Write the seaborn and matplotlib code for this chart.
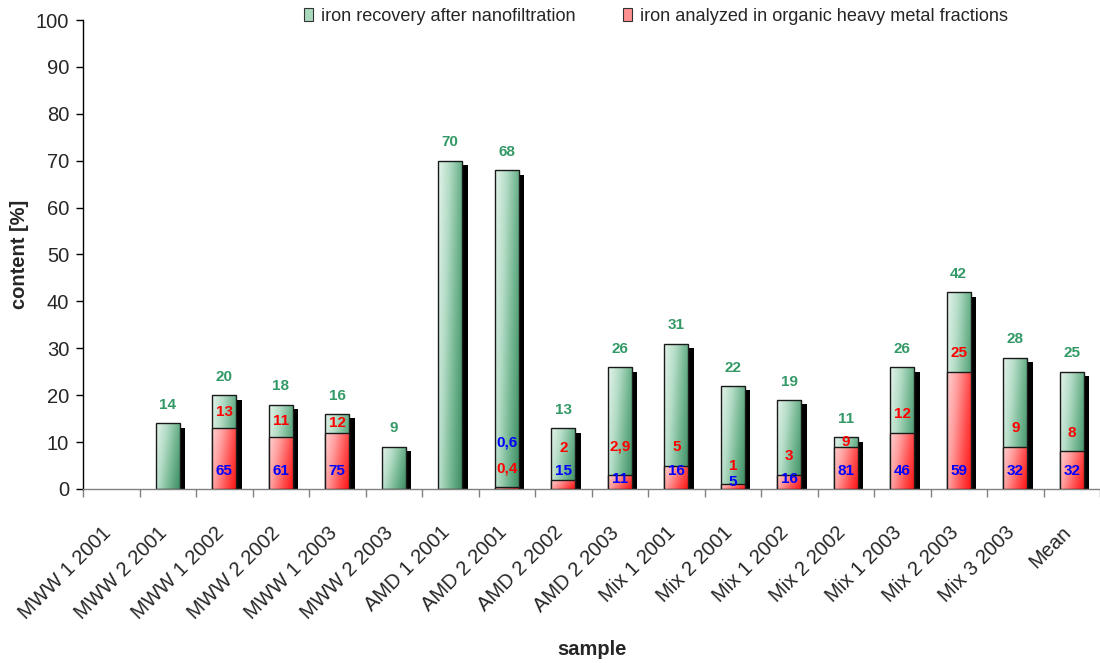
import numpy as np
import pandas as pd
import matplotlib
matplotlib.use("Agg")
import matplotlib.pyplot as plt
from matplotlib.colors import LinearSegmentedColormap
from matplotlib.patches import Patch, Rectangle
from matplotlib.transforms import ScaledTranslation
import seaborn as sns

# ---- data -------------------------------------------------------------
samples = ["MWW 1 2001", "MWW 2 2001", "MWW 1 2002", "MWW 2 2002", "MWW 1 2003",
           "MWW 2 2003", "AMD 1 2001", "AMD 2 2001", "AMD 2 2002", "AMD 2 2003",
           "Mix 1 2001", "Mix 2 2001", "Mix 1 2002", "Mix 2 2002", "Mix 1 2003",
           "Mix 2 2003", "Mix 3 2003", "Mean"]
nan = np.nan
# iron recovery after nanofiltration [%]
recovery = [nan, 14, 20, 18, 16, 9, 70, 68, 13, 26, 31, 22, 19, 11, 26, 42, 28, 25]
# iron analyzed in organic heavy metal fractions [%]
organic = [nan, nan, 13, 11, 12, nan, nan, 0.4, 2, 2.9, 5, 1, 3, 9, 12, 25, 9, 8]
# share of the recovered iron found in the organic fractions [%]
share = [nan, nan, 65, 61, 75, nan, nan, 0.6, 15, 11, 16, 5, 16, 81, 46, 59, 32, 32]

legend_labels = ["iron recovery after nanofiltration",
                 "iron analyzed in organic heavy metal fractions"]
y_ticks = [0, 10, 20, 30, 40, 50, 60, 70, 80, 90, 100]

df = pd.DataFrame({"sample": samples, "recovery": recovery,
                   "organic": organic, "share": share})

# ---- style ------------------------------------------------------------
sns.set_style("white")
plt.rcParams["font.family"] = ["Liberation Sans", "DejaVu Sans"]

GREEN_TXT = "#339966"
green_cmap = LinearSegmentedColormap.from_list(
    "g", ["#e3f3ea", "#b4dcc6", "#6fb48e", "#3a8a60"])
red_cmap = LinearSegmentedColormap.from_list(
    "r", ["#ffd0d0", "#ff9c9c", "#ff5050", "#ff1010"])

fig = plt.figure(figsize=(11, 6.63), dpi=100)
ax = fig.add_axes([83 / 1100, 1 - 489 / 663, 1 - 83 / 1100, (489 - 20) / 663])

BAR_W = 0.425
n0 = len(ax.patches)
sns.barplot(data=df, x="sample", y="recovery", order=samples, width=BAR_W,
            errorbar=None, color="white", ax=ax)
green_patches = ax.patches[n0:]
n1 = len(ax.patches)
sns.barplot(data=df, x="sample", y="organic", order=samples, width=BAR_W,
            errorbar=None, color="white", ax=ax)
red_patches = ax.patches[n1:]


def shade(patch, cmap, z):
    h = patch.get_height()
    if not np.isfinite(h) or h <= 0:
        patch.set_visible(False)
        return False
    x0, y0, w = patch.get_x(), patch.get_y(), patch.get_width()
    nx, ny = 48, 96
    xf = np.linspace(0, 1, nx)[None, :]
    yf = np.linspace(0, 1, ny)[:, None]          # 0 at top, 1 at bottom
    t = np.clip(0.72 * xf + 0.28 * yf, 0, 1)
    im = ax.imshow(t, extent=[x0, x0 + w, y0, y0 + h], origin="upper",
                   cmap=cmap, vmin=0, vmax=1, aspect="auto",
                   interpolation="bilinear", zorder=z)
    im.set_clip_path(patch)
    patch.set_facecolor("none")
    patch.set_edgecolor("#1a1a1a")
    patch.set_linewidth(1.0)
    patch.set_zorder(z + 0.5)
    return True


shadow_tf = ax.transData + ScaledTranslation(0.055, -0.045, fig.dpi_scale_trans)
for p in green_patches:
    if shade(p, green_cmap, 2):
        ax.add_patch(Rectangle((p.get_x(), p.get_y()), p.get_width(), p.get_height(),
                               facecolor="black", edgecolor="none",
                               transform=shadow_tf, zorder=1.5))
for p in red_patches:
    shade(p, red_cmap, 3)


def fmt(v):
    return f"{v:g}".replace(".", ",")


lbl_kw = dict(ha="center", va="center", fontsize=11, fontweight="bold", zorder=6)
red_y_override = {"AMD 2 2002": 8.7, "AMD 2 2003": 9.0}
blue_y_override = {"AMD 2 2001": 10.0, "Mix 2 2001": 1.5,
                   "AMD 2 2003": 2.2, "Mix 1 2002": 2.2}
for i, s in enumerate(samples):
    g, r, b = recovery[i], organic[i], share[i]
    if np.isfinite(g):
        ax.text(i, g + 3.9, fmt(g), color=GREEN_TXT, **lbl_kw)
    if np.isfinite(r):
        ry = red_y_override.get(s, min(r + 4.0, (r + g) / 2))
        ax.text(i, ry, fmt(r), color="#ff0000", **lbl_kw)
    if np.isfinite(b):
        ax.text(i, blue_y_override.get(s, 3.9), fmt(b), color="#0000ff", **lbl_kw)

# ---- axes -------------------------------------------------------------
ax.set_ylim(0, 100)
ax.set_xlim(-0.5, len(samples) - 0.5)
ax.set_yticks(y_ticks)
ax.set_yticklabels([str(v) for v in y_ticks], fontsize=14.5)
ax.tick_params(axis="y", direction="out", length=5, width=1, pad=5, left=True,
               color="black")
ax.set_xticks(range(len(samples)))
ax.set_xticklabels(samples, rotation=45, ha="right", va="top",
                   rotation_mode="anchor", fontsize=14.5)
ax.tick_params(axis="x", which="major", length=0, pad=24.5)
label_shift = ScaledTranslation(-0.10, 0, fig.dpi_scale_trans)
for lab in ax.get_xticklabels():
    lab.set_transform(lab.get_transform() + label_shift)
ax.set_xticks(np.arange(-0.5, len(samples), 1), minor=True)
ax.tick_params(axis="x", which="minor", direction="out", length=6, width=1,
               color="#808080", bottom=True)

for side in ("top", "right"):
    ax.spines[side].set_visible(False)
ax.spines["left"].set_color("black")
ax.spines["bottom"].set_color("#808080")
ax.spines["left"].set_linewidth(1)
ax.spines["bottom"].set_linewidth(1)
ax.grid(False)

ax.set_xlabel("sample", fontsize=14.5, fontweight="bold", va="center")
ax.xaxis.set_label_coords(0.5, -0.343)
ax.set_ylabel("content [%]", fontsize=14.5, fontweight="bold", va="center")
ax.yaxis.set_label_coords(-0.062, 0.5)

handles = [Patch(facecolor="#a9d9bd", edgecolor="#333333", linewidth=0.8),
           Patch(facecolor="#ff9090", edgecolor="#333333", linewidth=0.8)]
fig.legend(handles, legend_labels, loc="upper right",
           bbox_to_anchor=(1008 / 1100, 1 - 8 / 663), ncol=2, frameon=False,
           fontsize=13.1, handlelength=0.5, handleheight=0.7,
           handletextpad=0.45, columnspacing=2.6, borderpad=0, borderaxespad=0)

fig.savefig("out.png", dpi=100)
